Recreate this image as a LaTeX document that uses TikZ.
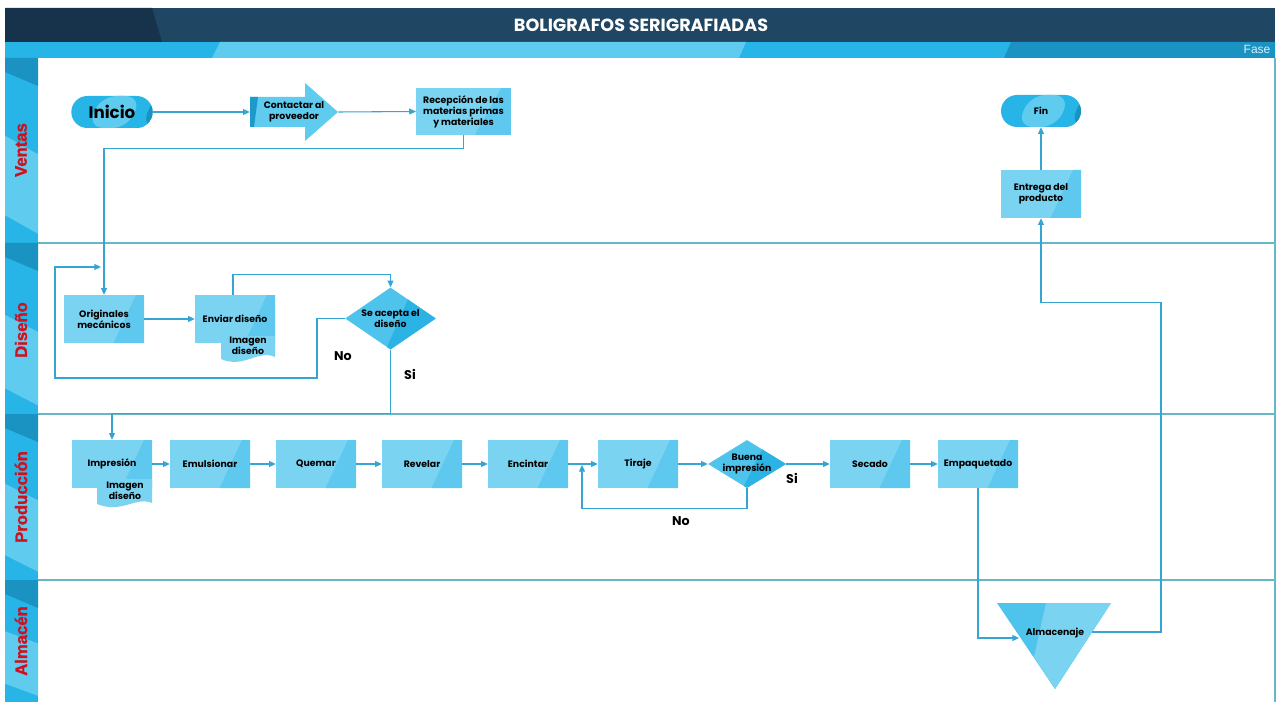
\documentclass[tikz,border=0pt]{standalone}
\usepackage{fontspec}
\setmainfont{Poppins}
\newfontfamily\lanefont{Liberation Sans}[BoldFeatures={FakeBold=1.5}]
\usetikzlibrary{arrows.meta,calc,shapes.geometric}
\definecolor{navyA}{HTML}{17334B}
\definecolor{navyB}{HTML}{1F4662}
\definecolor{skyA}{HTML}{27B4E6}
\definecolor{skyL}{HTML}{5FCBEF}
\definecolor{skyD}{HTML}{1A93C3}
\definecolor{boxL}{HTML}{7AD3F1}
\definecolor{boxD}{HTML}{5EC8EE}
\definecolor{diaL}{HTML}{4EC3EC}
\definecolor{diaD}{HTML}{2BB3E5}
\definecolor{lineC}{HTML}{35A6D3}
\definecolor{laneC}{HTML}{66B7C7}
\definecolor{redT}{HTML}{D0101E}
\definecolor{faseC}{HTML}{D6F1FA}
\newcommand{\ppb}{path picture bounding box}
\tikzset{
  nodetext/.style={font=\fontsize{7}{8.3}\selectfont\bfseries, text=black, align=center},
  procbox/.style={nodetext, fill=boxL, minimum width=60pt, minimum height=36pt, inner sep=1pt,
    path picture={\fill[boxD] ($(\ppb.south west)!0.62!(\ppb.south east)$) -- ($(\ppb.north west)!0.9!(\ppb.north east)$) -- (\ppb.north east) -- (\ppb.south east) -- cycle;}},
  decbox/.style={fill=diaL, shape=diamond, inner sep=0pt, aspect=1.5,
    path picture={\fill[diaD] ($(\ppb.south west)!0.45!(\ppb.south east)$) -- ($(\ppb.north west)!0.75!(\ppb.north east)$) -- (\ppb.north east) -- (\ppb.south east) -- cycle;}},
  termbox/.style={nodetext, fill=skyA, rounded corners=12pt, minimum height=24pt, inner sep=1pt,
    path picture={\fill[skyL] ($(\ppb.south west)!0.2!(\ppb.south east)$) -- ($(\ppb.north west)!0.36!(\ppb.north east)$) -- ($(\ppb.north west)!0.86!(\ppb.north east)$) -- ($(\ppb.south west)!0.7!(\ppb.south east)$) -- cycle;
      \fill[skyD] ($(\ppb.south west)!0.86!(\ppb.south east)$) -- ($(\ppb.north west)!1.02!(\ppb.north east)$) -- (\ppb.south east) -- cycle;}},
  doctext/.style={nodetext, inner sep=0pt},
  conn/.style={draw=lineC, line width=0.8pt, -{Triangle[length=5pt,width=4.5pt]}},
  laneline/.style={draw=laneC, line width=0.8pt},
  lanelabel/.style={font=\lanefont\bfseries\fontsize{12.5}{13}\selectfont, text=redT, rotate=90},
  yesno/.style={font=\fontsize{9.5}{10}\selectfont\bfseries, text=black},
}
\begin{document}
\begin{tikzpicture}[x=0.75pt,y=-0.75pt]
\useasboundingbox (0,0) rectangle (1277,702);
\fill[white] (0,0) rectangle (1277,702);
% title bar
\fill[navyB] (5,8) rectangle (1275,42);
\fill[navyA] (5,8) -- (152,8) -- (162,42) -- (5,42) -- cycle;
\node[font=\fontsize{13.2}{14}\selectfont\bfseries, text=white] (title) at (641,25) {BOLIGRAFOS SERIGRAFIADAS};
% phase bar
\fill[skyA] (5,42) rectangle (1275,58);
\fill[skyL] (212,58) -- (220,42) -- (746,42) -- (739,58) -- cycle;
\fill[skyD] (1004,58) -- (1011,42) -- (1275,42) -- (1275,58) -- cycle;
\node[font=\lanefont\fontsize{9}{10}\selectfont, text=faseC] (fase) at (1257,49.5) {Fase};
% lane column
\fill[skyA] (5,58) rectangle (38,702);
\foreach \t/\h in {58/185,243/171,414/166,580/122}{
  \fill[skyD] (5,\t) -- (38,\t) -- (38,\t+28) -- (5,\t+14) -- cycle;
  \fill[skyL] (5,\t+0.42*\h) -- (38,\t+0.52*\h) -- (38,\t+0.95*\h) -- (5,\t+0.85*\h) -- cycle;
}
\draw[laneline] (38,243) -- (1275,243);
\draw[laneline] (38,414) -- (1275,414);
\draw[laneline] (38,580) -- (1275,580);
\draw[laneline] (1275,58) -- (1275,702);
\node[lanelabel] (lv) at (21,150) {Ventas};
\node[lanelabel] (ld) at (21,330) {Diseño};
\node[lanelabel] (lp) at (21,497) {Producción};
\node[lanelabel] (la) at (21,641) {Almacén};
% ---- Ventas
\node[termbox, minimum width=61pt, font=\fontsize{12.5}{13}\selectfont\bfseries] (ini) at (112,112) {Inicio};
\fill[fill=skyL] (250,97) -- (305,97) -- (305,83) -- (338,112) -- (305,141) -- (305,127) -- (250,127) -- cycle;
\fill[fill=skyD!80!skyA] (250,97) -- (258,97) -- (254,127) -- (250,127) -- cycle;
\node[nodetext, minimum width=66pt, minimum height=43.5pt, inner sep=0pt] (con) at (294,112) {Contactar al\\proveedor};
\node[procbox, minimum width=71pt, minimum height=35pt] (rec) at (463.5,111.5) {Recepción de las\\materias primas\\y materiales};
\node[termbox, minimum width=60pt] (fin) at (1041,111) {Fin};
\node[procbox] (ent) at (1041,194) {Entrega del\\producto};
% ---- Diseño
\node[procbox] (ori) at (104,319) {Originales\\mecánicos};
\node[procbox] (env) at (235,319) {Enviar diseño};
\fill[boxL] (221,336) -- (275,336) -- (275,357) .. controls (258,349) and (244,369) .. (221,359) -- cycle;
\node[doctext] (img1) at (248,346) {Imagen\\diseño};
\node[decbox, minimum width=68pt, minimum height=46.5pt, label={[nodetext]center:Se acepta el\\diseño}] (sea) at (390.5,318.5) {};
\node[yesno] (no1) at (343,356) {No};
\node[yesno] (si1) at (410,374) {Si};
% ---- Producción
\node[procbox] (imp) at (112,464) {Impresión};
\fill[boxL] (97,479) -- (152,479) -- (152,503) .. controls (136,496) and (122,514) .. (97,504) -- cycle;
\node[doctext] (img2) at (125,491) {Imagen\\diseño};
\node[procbox] (emu) at (210,464) {Emulsionar};
\node[procbox] (que) at (316,464) {Quemar};
\node[procbox] (rev) at (422,464) {Revelar};
\node[procbox] (enc) at (528,464) {Encintar};
\node[procbox] (tir) at (638,464) {Tiraje};
\node[decbox, minimum width=58.5pt, minimum height=36pt, label={[nodetext]center:Buena\\impresión}] (bue) at (747,464) {};
\node[yesno] (si2) at (792,478) {Si};
\node[yesno] (no2) at (681,521) {No};
\node[procbox] (sec) at (870,464) {Secado};
\node[procbox] (emp) at (978,464) {Empaquetado};
% ---- Almacén
\fill[diaL] (997,603) -- (1111,603) -- (1055,689) -- cycle;
\fill[boxL] (1046,603) -- (1111,603) -- (1055,689) -- (1034,657) -- cycle;
\node[nodetext] (alm) at (1055,633) {Almacenaje};
\coordinate (almL) at (1019,638);
\coordinate (almR) at (1092,632);
% ---- connectors
\draw[conn] (ini.east) -- (con.west);
\draw[conn] (con.east) -- (rec.west);
\draw[conn] (rec.south) -- ++(0,13) -| (ori.north);
\draw[conn] (ori.east) -- (env.west);
\draw[conn] ($(env.north)+(-2,0)$) -- ++(0,-20) -| (sea.north);
\coordinate (loopend) at (101,267);
\draw[conn] (sea.west) -| (317,378) -- (55,378) -- (55,267) -- (loopend);
\draw[conn] (sea.south) |- ($(imp.north)+(0,-26)$) -- (imp.north);
\draw[conn] (imp.east) -- (emu.west);
\draw[conn] (emu.east) -- (que.west);
\draw[conn] (que.east) -- (rev.west);
\draw[conn] (rev.east) -- (enc.west);
\draw[conn] (enc.east) -- (tir.west);
\draw[conn] (tir.east) -- (bue.west);
\coordinate (tirloop) at (582,465);
\draw[conn] (bue.south) -- ++(0,20) -| (tirloop);
\draw[conn] (bue.east) -- (sec.west);
\draw[conn] (sec.east) -- (emp.west);
\draw[conn] (emp.south) |- (almL);
\draw[conn] (almR) -- ++(69,0) |- ($(ent.south)+(0,84)$) -- (ent.south);
\draw[conn] (ent.north) -- (fin.south);
\end{tikzpicture}
\end{document}
